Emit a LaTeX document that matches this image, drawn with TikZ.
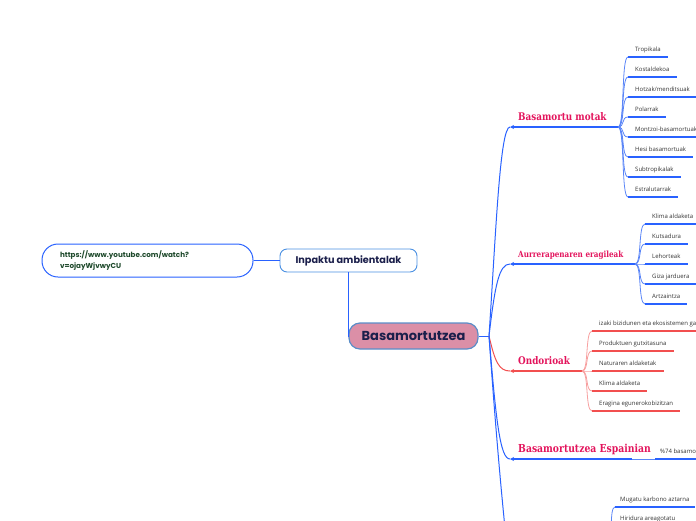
\documentclass[tikz,border=0pt]{standalone}
\usepackage{fontspec}
\setmainfont{Open Sans}
\newfontfamily\poppins{Poppins}
\newfontfamily\slab[FakeStretch=0.84]{DejaVu Serif}
\usetikzlibrary{arrows.meta}
\definecolor{lineblue}{HTML}{2962FF}
\definecolor{twigblue}{HTML}{5A85F7}
\definecolor{linered}{HTML}{F24F4F}
\definecolor{twigred}{HTML}{F7A0A0}
\definecolor{crimson}{HTML}{E3145C}
\definecolor{cfill}{HTML}{DB8FA7}
\definecolor{cborder}{HTML}{5A8DC8}
\definecolor{ibord}{HTML}{4A90E2}
\definecolor{navy}{HTML}{1B1F4B}
\definecolor{urlgreen}{HTML}{1F4A2C}
\definecolor{leaftext}{HTML}{333333}
\begin{document}
\begin{tikzpicture}[x=1pt,y=-1pt,
  centre/.style={draw=cborder, fill=cfill, line width=1.2pt, rounded corners=11pt,
    minimum width=129pt, minimum height=26pt, inner sep=0pt,
    font=\poppins\bfseries\fontsize{13}{15}\selectfont, text=navy},
  inpnode/.style={draw=ibord, fill=white, line width=0.9pt, rounded corners=7pt,
    minimum width=137pt, minimum height=23pt, inner sep=0pt,
    font=\poppins\bfseries\fontsize{9.7}{11}\selectfont, text=navy},
  urlnode/.style={draw=lineblue, fill=white, line width=1pt, rounded corners=16pt,
    minimum height=33pt, text width=175pt, inner xsep=18pt, inner ysep=0pt, align=left,
    font=\poppins\bfseries\fontsize{7.2}{10.5}\selectfont, text=urlgreen},
  conn/.style={draw=lineblue, line width=0.9pt},
  trunk/.style={draw=lineblue, line width=1pt},
  trunkred/.style={draw=linered, line width=1pt},
  mainlab/.style={anchor=south west, inner xsep=8pt, inner ysep=6.5pt, text depth=0pt,
    text=crimson, font=\slab\bfseries\fontsize{10.5}{12}\selectfont},
  mainline/.style={draw=lineblue, line width=1.6pt, {Stealth[length=4pt,width=4pt]}-},
  mainlinered/.style={draw=linered, line width=1.6pt, {Stealth[length=4pt,width=4pt]}-},
  leaf/.style={anchor=south west, inner xsep=7pt, inner ysep=5.5pt, text depth=0pt,
    font=\fontsize{6}{7}\selectfont, text=leaftext},
  ul/.style={draw=lineblue, line width=1.8pt},
  ulred/.style={draw=linered, line width=1.8pt},
  twig/.style={draw=twigblue, line width=0.8pt},
  twigred/.style={draw=twigred, line width=0.8pt},
]
\useasboundingbox (0,0) rectangle (696,520);
\clip (0,0) rectangle (696,520);

% central and left nodes
\node[centre] (ctr) at (413.5,336) {Basamortutzea};
\node[inpnode] (inp) at (348.5,260.5) {Inpaktu ambientalak};
\node[urlnode] (url) at (147.5,260.5) {https://www.youtube.com/watch?\\v=ojayWjvwyCU};
\draw[conn] (url.east) -- (inp.west);
\draw[conn] (inp.south) |- (ctr.west);

% hubs
\coordinate (hc) at (489,336);
\coordinate (h1) at (618,127);
\coordinate (h2) at (635,264);
\coordinate (h3) at (582,371);
\coordinate (h4) at (632,459);
\coordinate (h5) at (507,548);
\coordinate (h6) at (609,542);

\draw[conn] (ctr.east) -- (hc);

% main branch labels
\node[mainlab] (m1) at (510,127) {Basamortu motak};
\node[mainlab, font=\slab\bfseries\fontsize{8.6}{10}\selectfont] (m2) at (510,264) {Aurrerapenaren eragileak};
\node[mainlab] (m3) at (510,371) {Ondorioak};
\node[mainlab, font=\slab\bfseries\fontsize{11}{12}\selectfont] (m4) at (510,459) {Basamortutzea Espainian};

\draw[trunk] (hc) .. controls (496,230) and (500,127) .. (m1.south west);
\draw[trunk] (hc) .. controls (495,285) and (499,264) .. (m2.south west);
\draw[trunkred] (hc) .. controls (495,362) and (499,371) .. (m3.south west);
\draw[trunk] (hc) .. controls (496,420) and (500,459) .. (m4.south west);
\draw[trunk] (hc) .. controls (495,420) and (500,480) .. (h5);

\draw[mainline] (m1.south west) -- (h1);
\draw[mainline] (m2.south west) -- (h2);
\draw[mainlinered] (m3.south west) -- (h3);
\draw[mainline] (m4.south west) -- (h4);

% Basamortu motak leaves
\node[leaf] (a1) at (628,57) {Tropikala};
\node[leaf] (a2) at (628,77) {Kostaldekoa};
\node[leaf] (a3) at (628,97) {Hotzak/menditsuak};
\node[leaf] (a4) at (628,117) {Polarrak};
\node[leaf] (a5) at (628,137) {Montzoi-basamortuak};
\node[leaf] (a6) at (628,157) {Hesi basamortuak};
\node[leaf] (a7) at (628,177) {Subtropikalak};
\node[leaf] (a8) at (628,197) {Estralutarrak};
\foreach \n in {a1,a2,a3,a4,a5,a6,a7,a8}{
  \draw[twig] (h1) .. controls +(7,0) and +(-7,0) .. (\n.south west);
  \draw[ul] (\n.south west) -- (\n.south east);
}

% Aurrerapenaren eragileak leaves
\node[leaf] (b1) at (645,224) {Klima aldaketa};
\node[leaf] (b2) at (645,244) {Kutsadura};
\node[leaf] (b3) at (645,264) {Lehorteak};
\node[leaf] (b4) at (645,284) {Giza jarduera};
\node[leaf] (b5) at (645,304) {Artzaintza};
\foreach \n in {b1,b2,b3,b4,b5}{
  \draw[twig] (h2) .. controls +(7,0) and +(-7,0) .. (\n.south west);
  \draw[ul] (\n.south west) -- (\n.south east);
}

% Ondorioak leaves
\node[leaf] (c1) at (592,331) {izaki bizidunen eta ekosistemen ga};
\node[leaf] (c2) at (592,351) {Produktuen gutxitasuna};
\node[leaf] (c3) at (592,371) {Naturaren aldaketak};
\node[leaf] (c4) at (592,391) {Klima aldaketa};
\node[leaf] (c5) at (592,411) {Eragina egunerokobizitzan};
\foreach \n in {c1,c2,c3,c4,c5}{
  \draw[twigred] (h3) .. controls +(7,0) and +(-7,0) .. (\n.south west);
  \draw[ulred] (\n.south west) -- (\n.south east);
}

% Espainian leaf
\node[leaf, inner xsep=5pt] (d1) at (655,459) {\%74 basamo};
\draw[twig] (h4) -- (d1.south west);
\draw[ul] (d1.south west) -- (d1.south east);

% bottom branch leaves
\node[leaf, inner xsep=5pt] (e1) at (615,507) {Mugatu karbono aztarna};
\node[leaf, inner xsep=5pt] (e2) at (615,526) {Hiridura areagotatu};
\foreach \n in {e1,e2}{
  \draw[twig] (h6) .. controls +(4,0) and +(-6,0) .. (\n.south west);
  \draw[ul] (\n.south west) -- (\n.south east);
}
\end{tikzpicture}
\end{document}
